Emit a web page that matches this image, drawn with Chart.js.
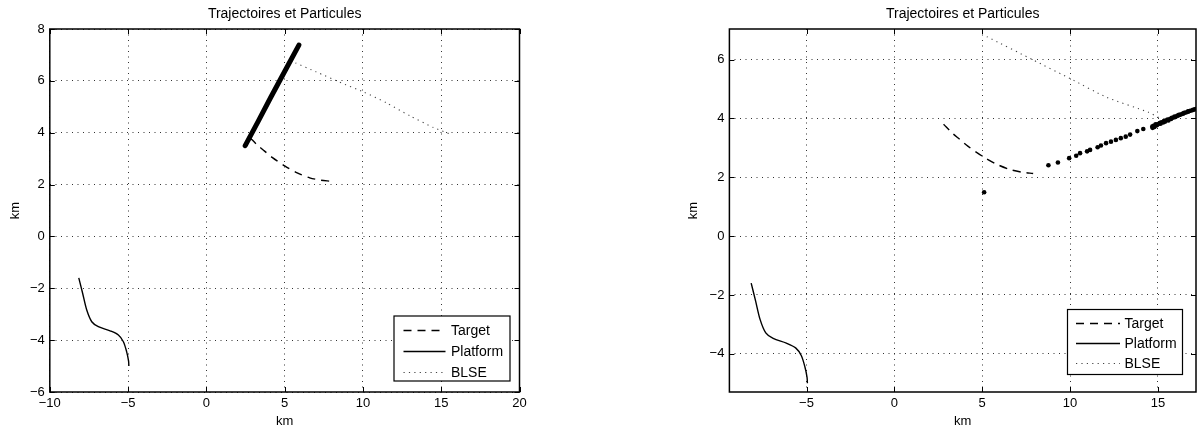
<!DOCTYPE html>
<html><head><meta charset="utf-8">
<script src="https://cdn.jsdelivr.net/npm/chart.js@4.4.1/dist/chart.umd.min.js"></script>
<style>
html,body{margin:0;padding:0;background:#fff;width:1200px;height:429px;overflow:hidden}
canvas{position:absolute;top:0}
#c1{left:0}
#c2{left:600px}
</style></head><body>
<canvas id="c1" width="600" height="429"></canvas>
<canvas id="c2" width="600" height="429"></canvas>
<script>
// ---------- texts ----------
const chartTitle = 'Trajectoires et Particules';
const axisLabel = 'km';
const legendLabels = ['Target', 'Platform', 'BLSE'];
const particlesLabel = 'Particules';

// ---------- data (km) ----------
const targetX = [2.8, 3.3, 3.7, 4.2, 5.0, 5.8, 6.6, 7.3, 7.9];
const targetY = [3.8, 3.5, 3.3, 3.05, 2.72, 2.45, 2.26, 2.17, 2.13];

const platformX = [-8.15, -7.9, -7.64, -7.32, -6.9, -6.15, -5.62, -5.3, -5.09, -4.97, -4.95];
const platformY = [-1.6, -2.2, -2.84, -3.29, -3.48, -3.64, -3.8, -4.06, -4.45, -4.8, -5.0];

const blseLeftX = [5.69, 7.0, 8.5, 10.05, 11.5, 13.0, 14.5, 15.56];
const blseLeftY = [6.69, 6.35, 5.95, 5.57, 5.15, 4.65, 4.2, 3.95];

const blseRightX = [5.26, 7.86, 10.02, 12.08, 14.46, 15.3];
const blseRightY = [6.78, 6.0, 5.35, 4.72, 4.21, 3.95];

const particlesLeftX = [2.48, 3.3, 4.09, 5.0, 5.91];
const particlesLeftY = [3.5, 4.43, 5.34, 6.36, 7.38];

const particlesRightX = [5.11, 8.77, 9.31, 9.95, 10.35, 10.57, 10.97, 11.14, 11.57, 11.76, 12.05, 12.33, 12.61, 12.89, 13.17, 13.42, 13.83, 14.17,
  14.68, 14.7, 14.75, 14.8, 14.87, 14.9, 14.95, 15.0, 15.1, 15.15, 15.2, 15.3, 15.35, 15.4, 15.5, 15.55, 15.6, 15.7, 15.75, 15.8, 15.9, 15.95,
  16.0, 16.1, 16.15, 16.2, 16.3, 16.4, 16.45, 16.5, 16.6, 16.7, 16.75, 16.8, 16.9, 17.0, 17.1, 17.2];
const particlesRightY = [1.49, 2.41, 2.5, 2.65, 2.73, 2.82, 2.88, 2.93, 3.02, 3.08, 3.16, 3.21, 3.27, 3.33, 3.38, 3.45, 3.57, 3.64,
  3.72, 3.68, 3.75, 3.71, 3.80, 3.76, 3.78, 3.80, 3.84, 3.82, 3.87, 3.86, 3.91, 3.89, 3.94, 3.96, 3.93, 3.99, 3.98, 4.02, 4.03, 4.06,
  4.05, 4.09, 4.10, 4.12, 4.13, 4.16, 4.17, 4.19, 4.20, 4.23, 4.24, 4.25, 4.27, 4.29, 4.31, 4.33];

// ---------- axes ----------
const leftXTicks = [-10, -5, 0, 5, 10, 15, 20];
const leftYTicks = [-6, -4, -2, 0, 2, 4, 6, 8];
const rightXTicks = [-5, 0, 5, 10, 15];
const rightYTicks = [-4, -2, 0, 2, 4, 6];
const leftXRange = [-10, 20];
const leftYRange = [-6, 8];
const rightXRange = [-9.39, 17.17];
const rightYRange = [-5.3, 7.04];

const FONT = "'Liberation Sans', Arial, Helvetica, sans-serif";
const pts = (xs, ys) => xs.map((x, i) => ({x: x, y: ys[i]}));
const fmt = v => String(v).replace('-', '\u2212');

const axisBox = {
  id: 'axisBox',
  afterDatasetsDraw(chart) {
    const ctx = chart.ctx, ca = chart.chartArea;
    const xs = chart.scales.x, ys = chart.scales.y;
    const tl = 5;
    ctx.save();
    ctx.strokeStyle = '#000';
    ctx.lineWidth = 1;
    ctx.beginPath();
    xs.ticks.forEach(t => {
      const p = Math.round(xs.getPixelForValue(t.value)) + 0.5;
      ctx.moveTo(p, ca.bottom); ctx.lineTo(p, ca.bottom - tl);
      ctx.moveTo(p, ca.top); ctx.lineTo(p, ca.top + tl);
    });
    ys.ticks.forEach(t => {
      const p = Math.round(ys.getPixelForValue(t.value)) + 0.5;
      ctx.moveTo(ca.left, p); ctx.lineTo(ca.left + tl, p);
      ctx.moveTo(ca.right, p); ctx.lineTo(ca.right - tl, p);
    });
    ctx.stroke();
    ctx.lineWidth = 1.5;
    ctx.strokeRect(ca.left, ca.top, ca.right - ca.left, ca.bottom - ca.top);
    ctx.restore();
  }
};

const boxLegend = {
  id: 'boxLegend',
  afterDraw(chart, args, o) {
    const ctx = chart.ctx, ca = chart.chartArea;
    const x0 = ca.right - o.right - o.width, y0 = ca.bottom - o.bottom - o.height;
    ctx.save();
    ctx.fillStyle = '#fff';
    ctx.fillRect(x0, y0, o.width, o.height);
    ctx.strokeStyle = '#000';
    ctx.lineWidth = 1.2;
    ctx.strokeRect(x0, y0, o.width, o.height);
    legendLabels.forEach((lab, i) => {
      const ds = chart.data.datasets.find(d => d.label === lab);
      const y = Math.round(y0 + o.firstRow + i * o.rowStep) + 0.5;
      ctx.beginPath();
      ctx.setLineDash(ds.borderDash || []);
      ctx.strokeStyle = ds.borderColor;
      ctx.lineWidth = ds.borderWidth;
      ctx.moveTo(x0 + o.lineStart, y);
      ctx.lineTo(x0 + o.lineEnd, y);
      ctx.stroke();
      ctx.setLineDash([]);
      ctx.fillStyle = '#000';
      ctx.font = '14px ' + FONT;
      ctx.textBaseline = 'middle';
      ctx.fillText(lab, x0 + o.textStart, y + 0.5);
    });
    ctx.restore();
  }
};

function makeChart(canvas, p) {
  const datasets = [
    p.particles,
    {label: 'Target', data: pts(targetX, targetY), showLine: true, borderColor: '#000', borderWidth: 1.4,
     borderDash: [8, 6], pointRadius: 0, tension: 0.3},
    {label: 'Platform', data: pts(platformX, platformY), showLine: true, borderColor: '#000', borderWidth: 1.4,
     pointRadius: 0, tension: 0.3},
    {label: 'BLSE', data: pts(p.blseX, p.blseY), showLine: true, borderColor: '#444', borderWidth: 1.1,
     borderDash: [1.2, 4.2], pointRadius: 0, tension: 0.2}
  ];
  return new Chart(canvas, {
    type: 'scatter',
    data: {datasets: datasets},
    plugins: [axisBox, boxLegend],
    options: {
      responsive: false,
      animation: false,
      devicePixelRatio: 1,
      layout: {padding: {left: p.padLeft, right: p.padRight, top: 0, bottom: 0}},
      plugins: {
        legend: {display: false},
        tooltip: {enabled: false},
        title: {display: true, text: chartTitle, fullSize: false, color: '#000',
                font: {family: FONT, size: 14, weight: 'normal'}, padding: {top: 5.5, bottom: 6.7}},
        boxLegend: p.legend
      },
      scales: {
        x: {
          type: 'linear', min: p.xRange[0], max: p.xRange[1],
          afterBuildTicks: s => { s.ticks = p.xTicks.map(v => ({value: v})); },
          afterFit: s => { s.height = 37; },
          ticks: {callback: fmt, color: '#000', padding: 4, maxRotation: 0, autoSkip: false,
                  font: {family: FONT, size: 13}},
          grid: {color: '#333', lineWidth: 1, drawTicks: false},
          border: {display: false, dash: [1, 4.5]},
          title: {display: true, text: axisLabel, color: '#000', padding: {top: 0, bottom: 0},
                  font: {family: FONT, size: 13}}
        },
        y: {
          type: 'linear', min: p.yRange[0], max: p.yRange[1],
          afterBuildTicks: s => { s.ticks = p.yTicks.map(v => ({value: v})); },
          afterFit: s => { s.width = p.yWidth; },
          ticks: {callback: fmt, color: '#000', padding: 5, autoSkip: false,
                  font: {family: FONT, size: 13}},
          grid: {color: '#333', lineWidth: 1, drawTicks: false},
          border: {display: false, dash: [1, 4.5]},
          title: {display: true, text: axisLabel, color: '#000', padding: {top: p.yTitlePad, bottom: 0},
                  font: {family: FONT, size: 13}}
        }
      }
    }
  });
}

makeChart(document.getElementById('c1'), {
  padLeft: 0, padRight: 80.5, yWidth: 49.8, yTitlePad: 7.2,
  xRange: leftXRange, yRange: leftYRange, xTicks: leftXTicks, yTicks: leftYTicks,
  blseX: blseLeftX, blseY: blseLeftY,
  particles: {label: particlesLabel, data: pts(particlesLeftX, particlesLeftY), showLine: true,
              borderColor: '#000', borderWidth: 5, borderCapStyle: 'round', pointRadius: 0},
  legend: {width: 116, height: 65, right: 9.5, bottom: 11, firstRow: 13.5, rowStep: 21,
           lineStart: 9.5, lineEnd: 51.5, textStart: 57}
});

makeChart(document.getElementById('c2'), {
  padLeft: 80, padRight: 1, yWidth: 49.4, yTitlePad: 6,
  xRange: rightXRange, yRange: rightYRange, xTicks: rightXTicks, yTicks: rightYTicks,
  blseX: blseRightX, blseY: blseRightY,
  particles: {label: particlesLabel, data: pts(particlesRightX, particlesRightY), showLine: false,
              pointRadius: 2.3, pointBackgroundColor: '#000', pointBorderWidth: 0, borderColor: '#000'},
  legend: {width: 115, height: 65, right: 13.5, bottom: 17.5, firstRow: 13.5, rowStep: 19.8,
           lineStart: 8.5, lineEnd: 52.5, textStart: 57}
});
</script>
</body></html>
